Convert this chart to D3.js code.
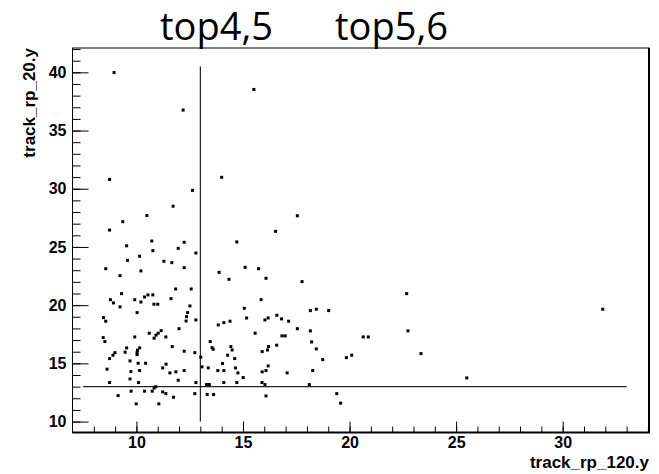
<!DOCTYPE html>
<html lang="en">
<head>
    <meta charset="UTF-8">
    <title>track_rp_20.y vs track_rp_120.y</title>
    <script src="https://d3js.org/d3.v7.min.js"></script>
    <style>
        body { margin: 0; background: #fff; }
        .tick text { font-family: "Liberation Sans", Arial, sans-serif; font-weight: bold; }
    </style>
</head>
<body>
    <div id="chart"></div>
    <script>
        // values
        var xs = [8.95, 12.19, 8.74, 12.63, 11.72, 10.49, 9.36, 8.74,
            15.51, 14.0, 17.55, 16.53,
            10.72, 9.54, 12.24, 11.96, 10.77, 12.79, 10.15, 9.58, 11.29, 11.66,
            8.56, 12.24, 10.21, 9.23, 11.84, 12.57, 9.3, 10.54, 10.77, 10.38,
            8.78, 8.92, 9.92, 10.21, 11.62, 10.82, 11.0, 12.51, 9.23, 10.03,
            12.4, 12.35, 12.33, 8.46, 8.56, 12.79, 12.0, 11.16, 11.02, 10.92,
            10.83, 10.6, 11.38, 9.92, 8.44, 8.52, 11.68, 9.54, 10.15, 10.05,
            10.03, 10.03, 9.47, 8.99, 8.9, 8.74, 12.24, 12.74, 13.46, 13.55,
            13.6, 13.02, 9.7, 10.08, 10.43, 11.39, 11.23, 8.62, 10.15, 9.74,
            11.57, 11.85, 12.24, 13.08, 13.37, 9.7, 11.96, 8.74, 10.1, 12.79,
            13.29, 10.91, 10.83, 9.75, 10.38, 10.74, 11.23, 11.38, 11.74, 9.14,
            12.74, 13.32, 13.62, 9.99, 11.05,
            14.71, 13.88, 15.1, 15.73, 14.34, 16.08, 17.77, 15.85, 15.06, 18.16,
            18.44, 19.02, 15.17, 16.03, 16.18, 16.59, 16.81, 17.14, 14.39, 14.1,
            13.84, 17.55, 18.16, 15.57, 16.83, 16.98, 18.22, 16.58, 14.43, 14.49,
            16.2, 16.15, 15.9, 18.44, 14.28, 14.61, 18.74, 19.85, 20.1, 14.04,
            14.65, 16.18, 13.82, 14.1, 14.76, 15.9, 16.08, 18.27, 17.07, 15.01,
            14.1, 14.71, 15.89, 16.03, 13.42, 18.11, 16.08, 19.4, 19.58,
            22.68, 31.88, 22.74, 20.64, 20.88, 23.35, 25.5];
        var ys = [39.98, 36.76, 30.8, 29.86, 28.5, 27.7, 27.17, 26.45,
            38.53, 30.98, 27.68, 26.34,
            25.51, 25.1, 25.4, 24.88, 24.68, 24.48, 24.2, 23.85, 23.77, 23.65,
            23.13, 23.22, 22.94, 22.53, 21.39, 21.39, 20.99, 20.88, 20.88, 20.7,
            20.47, 20.19, 20.47, 20.27, 20.56, 20.08, 20.08, 19.93, 19.85, 19.36,
            19.36, 19.01, 18.64, 18.93, 18.62, 18.73, 17.98, 17.81, 17.59, 17.42,
            17.16, 17.59, 17.27, 17.27, 17.21, 16.87, 16.44, 16.33, 16.33, 16.13,
            15.92, 15.75, 15.96, 15.92, 15.7, 15.41, 16.04, 15.92, 16.87, 16.35,
            16.21, 15.53, 15.21, 15.01, 15.01, 14.93, 14.61, 14.5, 14.38, 14.29,
            14.18, 14.27, 14.38, 14.7, 14.61, 13.66, 13.55, 13.35, 13.35, 13.35,
            13.18, 13.0, 12.87, 12.61, 12.61, 12.61, 12.55, 12.4, 12.09, 12.23,
            12.4, 12.32, 12.32, 11.52, 11.52,
            25.43, 22.82, 23.25, 23.13, 22.22, 22.31, 22.02, 20.47, 19.73, 19.53,
            19.65, 19.53, 18.9, 18.73, 18.9, 19.13, 18.82, 18.62, 18.62, 18.5,
            18.3, 17.98, 17.79, 17.59, 17.36, 17.36, 16.84, 16.56, 16.44, 16.15,
            16.44, 16.15, 16.01, 16.24, 15.7, 15.41, 15.32, 15.49, 15.7, 14.98,
            14.61, 14.78, 14.38, 14.38, 14.18, 14.27, 14.38, 14.38, 14.18, 13.78,
            13.35, 13.35, 13.35, 13.18, 13.18, 13.18, 12.2, 12.4, 11.58,
            20.99, 19.65, 17.79, 17.27, 17.27, 15.84, 13.75];

        var xMajor = [10, 15, 20, 25, 30];
        var yMajor = [10, 15, 20, 25, 30, 35, 40];
        var xMinor = d3.range(8, 35);
        var yMinor = d3.range(10, 43);

        // cut lines: [x1, y1, x2, y2] in data units
        var cuts = [[13, 10, 13, 40.5], [7.5, 13, 33, 13]];

        var width = 659,
            height = 474;

        var svg = d3.select('#chart')
            .append('svg')
            .attr('width', width)
            .attr('height', height);

        var x = d3.scaleLinear().domain([7, 34.05]).range([72.5, 649]);
        var y = d3.scaleLinear().domain([9.06, 42.09]).range([432.5, 48]);

        // title
        svg.append('text')
            .attr('x', 160).attr('y', 40)
            .style('font-family', '"Open Sans", sans-serif')
            .style('font-size', '38px')
            .text('top4,5');
        svg.append('text')
            .attr('x', 335).attr('y', 40)
            .style('font-family', '"Open Sans", sans-serif')
            .style('font-size', '38px')
            .text('top5,6');

        // minor ticks (no labels)
        svg.append('g')
            .attr('transform', 'translate(0,' + y.range()[0] + ')')
            .call(d3.axisBottom(x).tickValues(xMinor).tickSize(-6).tickFormat(''))
            .call(g => g.select('.domain').remove());
        svg.append('g')
            .attr('transform', 'translate(' + x.range()[0] + ',0)')
            .call(d3.axisLeft(y).tickValues(yMinor).tickSize(-8).tickFormat(''))
            .call(g => g.select('.domain').remove());

        // major ticks
        svg.append('g')
            .attr('transform', 'translate(0,' + y.range()[0] + ')')
            .call(d3.axisBottom(x).tickValues(xMajor).tickSize(-11).tickPadding(4))
            .call(g => g.select('.domain').remove())
            .selectAll('text').style('font-size', '16px');
        svg.append('g')
            .attr('transform', 'translate(' + x.range()[0] + ',0)')
            .call(d3.axisLeft(y).tickValues(yMajor).tickSize(-16).tickPadding(6))
            .call(g => g.select('.domain').remove())
            .selectAll('text').style('font-size', '16px');

        // frame
        svg.append('rect')
            .attr('x', x.range()[0]).attr('y', y.range()[1])
            .attr('width', x.range()[1] - x.range()[0])
            .attr('height', y.range()[0] - y.range()[1])
            .attr('fill', 'none').attr('stroke', 'black').attr('stroke-width', 1);
        svg.append('path')
            .attr('d', 'M' + x.range()[0] + ',' + y.range()[0] + 'H' + x.range()[1] + 'V' + y.range()[1])
            .attr('fill', 'none').attr('stroke', 'black').attr('stroke-width', 2);

        // axis titles
        svg.append('text')
            .attr('x', 649).attr('y', 468)
            .attr('text-anchor', 'end')
            .style('font-family', '"Liberation Sans", Arial, sans-serif')
            .style('font-weight', 'bold')
            .style('font-size', '17px')
            .text('track_rp_120.y');
        svg.append('text')
            .attr('transform', 'translate(35,48) rotate(-90)')
            .attr('text-anchor', 'end')
            .style('font-family', '"Liberation Sans", Arial, sans-serif')
            .style('font-weight', 'bold')
            .style('font-size', '17px')
            .text('track_rp_20.y');

        // cut lines
        svg.append('g')
            .selectAll('line')
            .data(cuts)
            .enter()
            .append('line')
            .attr('x1', d => x(d[0]))
            .attr('y1', d => y(d[1]))
            .attr('x2', d => x(d[2]))
            .attr('y2', d => y(d[3]))
            .attr('stroke', '#222')
            .attr('stroke-width', 1.2);

        // points
        svg.append('g')
            .selectAll('rect')
            .data(xs)
            .enter()
            .append('rect')
            .attr('x', (d, i) => x(d) - 1.5)
            .attr('y', (d, i) => y(ys[i]) - 1.5)
            .attr('width', 3)
            .attr('height', 3)
            .attr('fill', 'black');
    </script>
</body>
</html>
